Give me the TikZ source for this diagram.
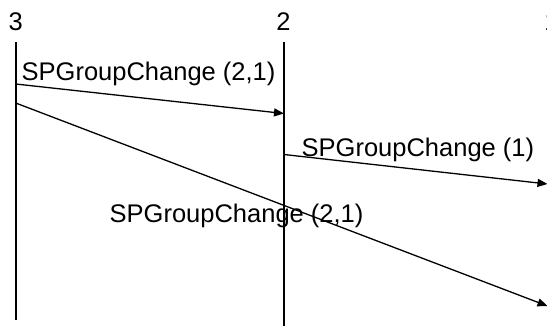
\documentclass[tikz,border=0pt]{standalone}
\usepackage{fontspec}
\setmainfont{Liberation Sans}
\usetikzlibrary{arrows.meta}
\begin{document}
\begin{tikzpicture}[x=1pt,y=-1pt,
  lifeline/.style={line width=1.6pt},
  msg/.style={line width=1.3pt,-{Triangle[length=10pt,width=8pt]}},
  lbl/.style={inner sep=0pt,anchor=base west,font=\fontsize{25.5}{30}\selectfont},
  head/.style={inner sep=0pt,anchor=base,font=\fontsize{25.5}{30}\selectfont}]
\useasboundingbox (0,0) rectangle (547,325);
% heads
\node[head] (h3) at (15.7,30) {3};
\node[head] (h2) at (283.5,30) {2};
\node[head] (h1) at (551.5,30) {1};
% lifelines
\coordinate (l3top) at (15.7,42);
\coordinate (l3bot) at (15.7,320);
\coordinate (l2top) at (284,42);
\coordinate (l2bot) at (284,326);
\coordinate (l1top) at (550,42);
\coordinate (l1bot) at (550,326);
\draw[lifeline] (l3top) -- (l3bot);
\draw[lifeline] (l2top) -- (l2bot);
\draw[lifeline] (l1top) -- (l1bot);
% message end points
\coordinate (a1s) at (15.7,84);
\coordinate (a1e) at (284,113.5);
\coordinate (a2s) at (15.7,103);
\coordinate (a2e) at (547.5,306);
\coordinate (a3s) at (284,154.5);
\coordinate (a3e) at (547.5,184);
\draw[msg] (a1s) -- (a1e);
\draw[msg] (a2s) -- (a2e);
\draw[msg] (a3s) -- (a3e);
% labels
\node[lbl] (t1) at (21.5,80) {SPGroupChange (2,1)};
\node[lbl] (t2) at (301.5,156.5) {SPGroupChange (1)};
\node[lbl] (t3) at (109.5,222.5) {SPGroupChange (2,1)};
\end{tikzpicture}
\end{document}
